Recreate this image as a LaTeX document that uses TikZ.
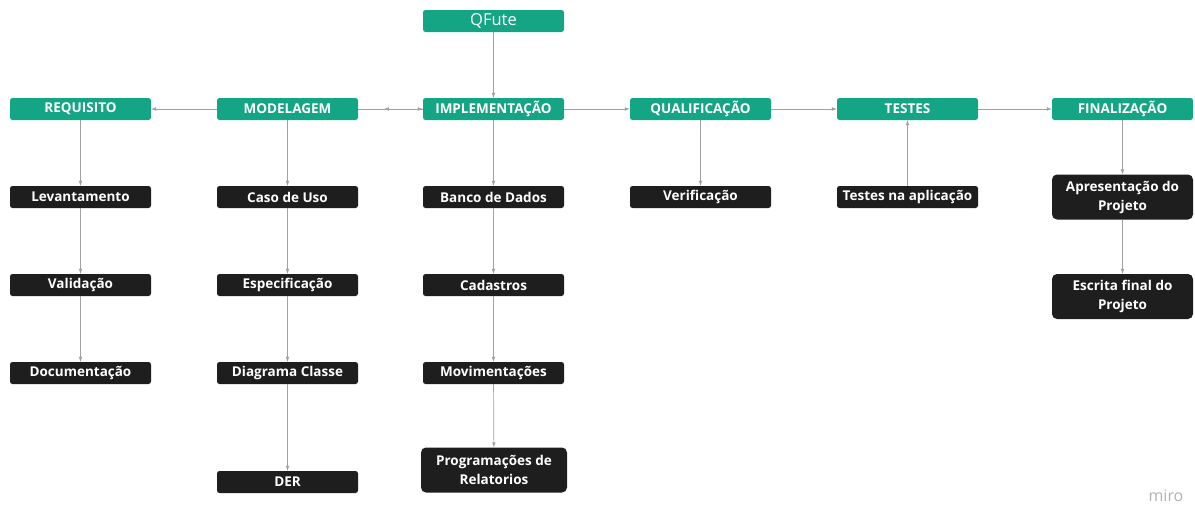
\documentclass[tikz,border=0pt]{standalone}
\usepackage{fontspec}
\setmainfont{Open Sans}
\usetikzlibrary{arrows, positioning}
\definecolor{miroverde}{RGB}{20,166,132}
\definecolor{miropreto}{RGB}{30,30,30}
\definecolor{linha}{RGB}{160,160,160}

\begin{document}
\begin{tikzpicture}[
        x=1pt, y=-1pt,
        every node/.style={rectangle, rounded corners=2.5pt, inner sep=0pt, minimum width=141pt, minimum height=22pt},
        fase/.style={fill=miroverde, text=white, font=\bfseries\fontsize{13.5}{16}\selectfont},
        tarefa/.style={fill=miropreto, text=white, font=\bfseries\fontsize{13.5}{19}\selectfont, align=center},
        tarefa2/.style={tarefa, minimum height=45pt, rounded corners=5pt},
        liga/.style={draw=linha, line width=0.7pt, ->, >=latex}
    ]
        \useasboundingbox (0,0) rectangle (1195,506);

        % Topo
        \node [fill=miroverde, text=white, font=\fontsize{16.5}{18}\selectfont](qfute) at (493.5,21) {QFute};

        % Fases
        \node [fase](req) at (80.5,109) {REQUISITO};
        \node [fase](mod) at (287.5,109) {MODELAGEM};
        \node [fase](imp) at (493.5,109) {IMPLEMENTAÇÃO};
        \node [fase](qua) at (700.5,109) {QUALIFICAÇÃO};
        \node [fase](tes) at (907.5,109) {TESTES};
        \node [fase](fin) at (1122.5,109) {FINALIZAÇÃO};

        % Tarefas
        \node [tarefa](lev) at (80.5,197) {Levantamento};
        \node [tarefa](val) at (80.5,285) {Validação};
        \node [tarefa](doc) at (80.5,373) {Documentação};

        \node [tarefa](caso) at (287.5,197) {Caso de Uso};
        \node [tarefa](esp) at (287.5,285) {Especificação};
        \node [tarefa](diag) at (287.5,373) {Diagrama Classe};
        \node [tarefa](der) at (287.5,482) {DER};

        \node [tarefa](banco) at (493.5,197) {Banco de Dados};
        \node [tarefa](cad) at (493.5,285) {Cadastros};
        \node [tarefa](mov) at (493.5,373) {Movimentações};
        \node [tarefa2, minimum width=146pt](prog) at (494,470) {Programações de\\Relatorios};

        \node [tarefa](ver) at (700.5,197) {Verificação};
        \node [tarefa](tapl) at (907.5,197) {Testes na aplicação};

        \node [tarefa2](apr) at (1122.5,197) {Apresentação do\\Projeto};
        \node [tarefa2](esc) at (1122.5,296.5) {Escrita final do\\Projeto};

        \node [minimum width=0pt, minimum height=0pt, text=black!30, font=\fontsize{16}{18}\selectfont](miro) at (1166,496) {miro};

        % Ligações entre fases
        \coordinate (meio) at (384,109);
        \draw[liga] (qfute) -- (imp);
        \draw[liga] (mod) -- (req);
        \draw[liga] (mod) -- (imp);
        \draw[liga] (imp) -- (meio);
        \draw[liga] (imp) -- (qua);
        \draw[liga] (qua) -- (tes);
        \draw[liga] (tes) -- (fin);

        % Ligações verticais
        \draw[liga] (req) -- (lev);
        \draw[liga] (lev) -- (val);
        \draw[liga] (val) -- (doc);
        \draw[liga] (mod) -- (caso);
        \draw[liga] (caso) -- (esp);
        \draw[liga] (esp) -- (diag);
        \draw[liga] (diag) -- (der);
        \draw[liga] (imp) -- (banco);
        \draw[liga] (banco) -- (cad);
        \draw[liga] (cad) -- (mov);
        \draw[liga] (mov) -- (prog);
        \draw[liga] (qua) -- (ver);
        \draw[liga] (tapl) -- (tes);
        \draw[liga] (fin) -- (apr);
        \draw[liga] (apr) -- (esc);
    \end{tikzpicture}
\end{document}
